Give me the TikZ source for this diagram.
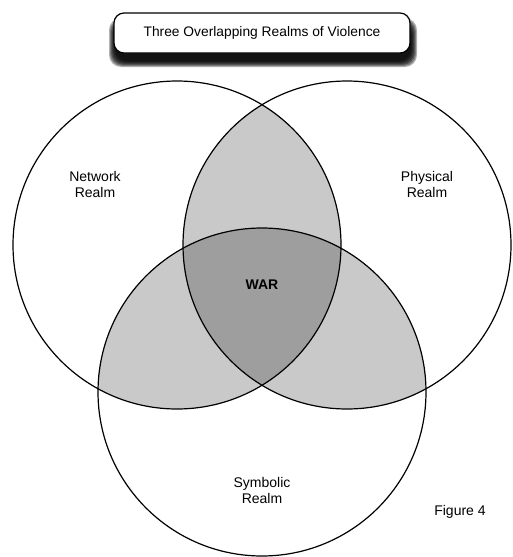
\documentclass[tikz,border=0pt]{standalone}
\usepackage{fontspec}
\setmainfont{Liberation Sans}
\begin{document}
\begin{tikzpicture}[x=1pt,y=-1pt,
  lbl/.style={font=\fontsize{14}{16}\selectfont, align=center, inner sep=0pt},
  ring/.style={draw=black, line width=1.2pt},
  pairfill/.style={fill=black!21},
  triplefill/.style={fill=black!38},
  shadowlayer/.style={fill=black, fill opacity=0.3, rounded corners=12pt},
  titlebox/.style={draw=black, line width=1.2pt, fill=white, rounded corners=10pt,
    minimum width=296pt, minimum height=40pt, inner sep=0pt,
    font=\fontsize{13.8}{16}\selectfont}
]
\useasboundingbox (0,0) rectangle (512,557);
\fill[white] (0,0) rectangle (512,557);
\def\Lc{(177,245) circle[radius=164]}
\def\Rc{(347,245) circle[radius=164]}
\def\Bc{(262,392) circle[radius=164]}
% pairwise overlaps
\begin{scope}\clip \Lc; \fill[pairfill] \Rc; \end{scope}
\begin{scope}\clip \Lc; \fill[pairfill] \Bc; \end{scope}
\begin{scope}\clip \Rc; \fill[pairfill] \Bc; \end{scope}
% triple overlap
\begin{scope}\clip \Lc; \clip \Rc; \fill[triplefill] \Bc; \end{scope}
% outlines
\draw[ring] \Lc;
\draw[ring] \Rc;
\draw[ring] \Bc;
% title shadow (soft)
\foreach \e in {6,5,4,3,2,1,0}{
  \fill[shadowlayer] (115-\e,24-\e) rectangle (411+\e,61+\e);
}
% labels
\node[titlebox] (title) at (262,33) {Three Overlapping Realms of Violence};
\node[lbl] (network) at (95,184) {Network\\Realm};
\node[lbl] (physical) at (427,184) {Physical\\Realm};
\node[lbl] (symbolic) at (262,490) {Symbolic\\Realm};
\node[lbl, font=\fontsize{14}{16}\selectfont\bfseries] (war) at (262,285) {WAR};
\node[lbl] (fig) at (460,512) {Figure 4};
\end{tikzpicture}
\end{document}
